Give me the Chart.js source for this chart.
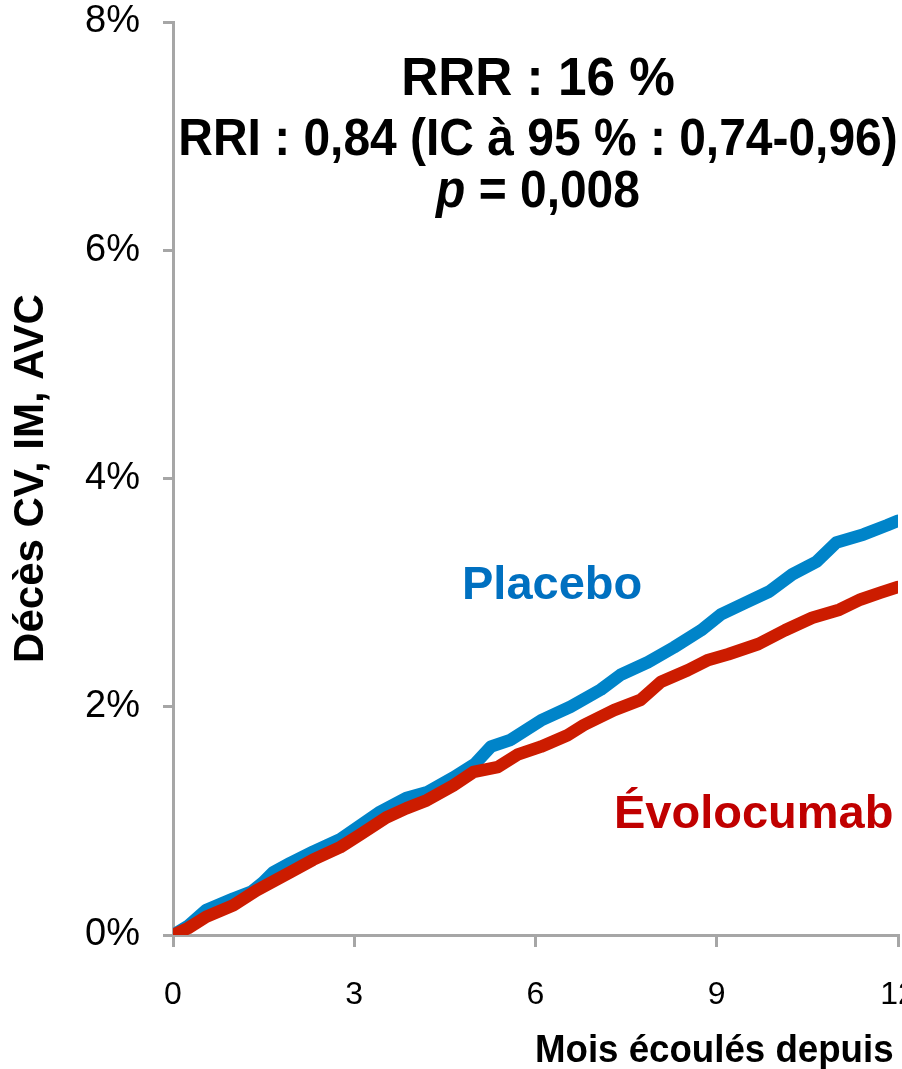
<!DOCTYPE html>
<html lang="fr">
<head>
<meta charset="utf-8">
<title>Décès CV, IM, AVC</title>
<script src="https://cdn.jsdelivr.net/npm/chart.js@4.4.1/dist/chart.umd.min.js"></script>
<style>
  html, body { margin: 0; padding: 0; background: #fff; overflow: hidden; }
  #wrap { position: relative; width: 1000px; height: 1069px; }
</style>
</head>
<body>
<div id="wrap"><canvas id="kmChart"></canvas></div>
<script>
// Kaplan-Meier readings, months since randomisation vs cumulative %
const placeboMonths = [0, 0.25, 0.55, 1.0, 1.3, 1.49, 1.66, 1.94, 2.32, 2.77, 3.1, 3.43, 3.86, 4.2, 4.64, 5.0, 5.26, 5.59, 6.09, 6.58, 7.08, 7.41, 7.86, 8.29, 8.74, 9.07, 9.47, 9.87, 10.25, 10.65, 10.98, 11.43, 11.82, 12.0];
const placeboPct = [0, 0.08, 0.22, 0.32, 0.38, 0.46, 0.55, 0.63, 0.73, 0.84, 0.96, 1.08, 1.20, 1.25, 1.38, 1.50, 1.65, 1.71, 1.88, 2.00, 2.15, 2.28, 2.39, 2.52, 2.67, 2.81, 2.91, 3.01, 3.16, 3.27, 3.44, 3.51, 3.59, 3.63];

const evoMonths = [0, 0.25, 0.55, 1.0, 1.38, 1.94, 2.32, 2.77, 3.1, 3.53, 3.86, 4.2, 4.64, 4.98, 5.37, 5.7, 6.09, 6.53, 6.8, 7.3, 7.74, 8.08, 8.52, 8.86, 9.19, 9.69, 10.13, 10.58, 11.03, 11.38, 11.71, 12.0];
const evoPct = [0, 0.06, 0.16, 0.26, 0.39, 0.55, 0.66, 0.77, 0.88, 1.03, 1.11, 1.18, 1.31, 1.43, 1.47, 1.58, 1.65, 1.75, 1.84, 1.97, 2.06, 2.22, 2.32, 2.41, 2.46, 2.55, 2.67, 2.78, 2.85, 2.94, 3.00, 3.05];

const xTicks = [0, 3, 6, 9, 12];
const yTicks = [0, 2, 4, 6, 8];

const statLines = ['RRR : 16 %', 'RRI : 0,84 (IC à 95 % : 0,74-0,96)'];
const pValue = '0,008';
const xTitle = 'Mois écoulés depuis la randomisation';
const yTitle = 'Décès CV, IM, AVC';

const axisGrey = '#A6A6A6';
const font = 'Liberation Sans, Arial, sans-serif';

function toPoints(xs, ys) {
    return xs.map((m, i) => ({ x: m, y: ys[i] }));
}

// text helper, sx squeezes the glyphs horizontally
function putText(ctx, txt, x, y, f, color, align, sx) {
    ctx.save();
    ctx.font = f;
    ctx.fillStyle = color;
    ctx.textBaseline = 'alphabetic';
    ctx.translate(x, y);
    ctx.scale(sx || 1, 1);
    ctx.textAlign = align || 'left';
    ctx.fillText(txt, 0, 0);
    ctx.restore();
}

const labelsPlugin = {
    id: 'kmLabels',
    afterDraw(chart) {
        const ctx = chart.ctx;
        putText(ctx, statLines[0], 538, 95, 'bold 54px ' + font, '#000', 'center', 0.95);
        putText(ctx, statLines[1], 538, 155, 'bold 51px ' + font, '#000', 'center', 0.94);

        // p = 0,008 with italic p
        ctx.save();
        const fp = 'italic bold 51px ' + font;
        const fr = 'bold 51px ' + font;
        ctx.font = fp;
        const wp = ctx.measureText('p').width;
        ctx.font = fr;
        const wr = ctx.measureText(' = ' + pValue).width;
        ctx.restore();
        const sx = 0.94;
        const start = 538 - (wp + wr) * sx / 2;
        putText(ctx, 'p', start, 207, fp, '#000', 'left', sx);
        putText(ctx, ' = ' + pValue, start + wp * sx, 207, fr, '#000', 'left', sx);

        putText(ctx, 'Placebo', 462, 599, 'bold 47px ' + font, '#0070C0', 'left');
        putText(ctx, 'Évolocumab', 614, 828, 'bold 47px ' + font, '#C00000', 'left');

        putText(ctx, xTitle, 535, 1062, 'bold 39px ' + font, '#000', 'left', 0.94);
    }
};

const config = {
    type: 'line',
    data: {
        datasets: [{
            label: 'Placebo',
            data: toPoints(placeboMonths, placeboPct),
            borderColor: '#0084C9',
            borderWidth: 12.5,
            pointRadius: 0,
            tension: 0,
            borderJoinStyle: 'round',
            borderCapStyle: 'round',
            order: 2
        }, {
            label: 'Évolocumab',
            data: toPoints(evoMonths, evoPct),
            borderColor: '#CC1C00',
            borderWidth: 12.5,
            pointRadius: 0,
            tension: 0,
            borderJoinStyle: 'round',
            borderCapStyle: 'round',
            order: 1
        }]
    },
    options: {
        responsive: true,
        maintainAspectRatio: false,
        animation: false,
        events: [],
        layout: { padding: { top: 0, right: 102, bottom: 0, left: 0 } },
        plugins: {
            legend: { display: false },
            tooltip: { enabled: false }
        },
        scales: {
            x: {
                type: 'linear',
                min: 0,
                max: 12,
                afterBuildTicks: (scale) => { scale.ticks = xTicks.map(v => ({ value: v })); },
                afterFit: (scale) => { scale.height = 134; },
                ticks: {
                    color: '#000',
                    font: { family: font, size: 32 },
                    padding: 29,
                    maxRotation: 0
                },
                grid: { drawOnChartArea: false, drawTicks: true, tickLength: 12, color: axisGrey, lineWidth: 3 },
                border: { color: axisGrey, width: 3 }
            },
            y: {
                min: 0,
                max: 8,
                afterBuildTicks: (scale) => { scale.ticks = yTicks.map(v => ({ value: v })); },
                afterFit: (scale) => {
                    scale.width = 173;
                    scale.paddingTop = 22;
                    scale.paddingBottom = 0;
                },
                ticks: {
                    color: '#000',
                    font: { family: font, size: 38 },
                    padding: 23,
                    callback: v => v + '%'
                },
                title: {
                    display: true,
                    text: yTitle,
                    color: '#000',
                    font: { family: font, size: 42, weight: 'bold' },
                    padding: { top: 6, bottom: 0 }
                },
                grid: { drawOnChartArea: false, drawTicks: true, tickLength: 10, color: axisGrey, lineWidth: 3 },
                border: { color: axisGrey, width: 3 }
            }
        }
    },
    plugins: [labelsPlugin]
};

new Chart(document.getElementById('kmChart'), config);
</script>
</body>
</html>
